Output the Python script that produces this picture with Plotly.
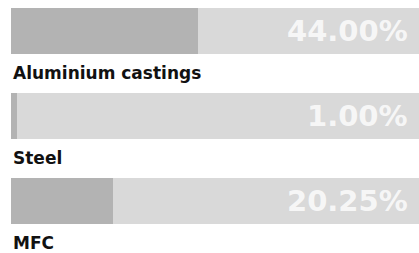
import plotly.graph_objects as go

categories = ["Aluminium castings", "Steel", "MFC"]
shares = [44.00, 1.00, 20.25]           # displayed percentages
fill_lengths = [45.8, 1.5, 25.0]        # filled part of each track (% of track)
track_max = 100

FILL = "#b3b3b3"
TRACK = "#d9d9d9"

# y axis maps 1:1 to page pixels
W, H = 419, 253
bar_h = 46
first_center = 31
step = 85
centers = [first_center + i * step for i in range(len(categories))]

fig = go.Figure()
# track: drawn past the axis end and clipped by the plot area so it reaches the right edge
fig.add_trace(go.Bar(
    y=centers, x=[track_max * 1.1] * len(categories), orientation="h",
    width=bar_h, marker=dict(color=TRACK, line=dict(width=0)),
    cliponaxis=True, hoverinfo="skip", showlegend=False))
fig.add_trace(go.Bar(
    y=centers, x=fill_lengths, orientation="h",
    width=bar_h, marker=dict(color=FILL, line=dict(width=0)),
    hoverinfo="skip", showlegend=False))

for c, cat, s in zip(centers, categories, shares):
    fig.add_annotation(x=1, y=c, xref="paper", yref="y",
                       text=f"{s:.2f}%", showarrow=False,
                       xanchor="right", yanchor="middle", xshift=-9,
                       font=dict(family="DejaVu Sans", size=29, color="rgba(255,255,255,0.8)", weight="bold"))
    fig.add_annotation(x=0, y=c + bar_h / 2 + 19, xref="paper", yref="y",
                       text=f"<b>{cat}</b>", showarrow=False,
                       xanchor="left", yanchor="middle",
                       font=dict(family="DejaVu Sans", size=17, color="#111111"))

axis_off = dict(showticklabels=False, showgrid=False, zeroline=False, showline=False,
                ticks="", fixedrange=True, autorange=False)
fig.update_layout(
    width=W, height=H, margin=dict(l=11, r=0, t=0, b=0, pad=0, autoexpand=False),
    paper_bgcolor="white", plot_bgcolor="white",
    barmode="overlay", bargap=0,
    xaxis=dict(range=[0, track_max], type="linear", **axis_off),
    yaxis=dict(range=[H, 0], type="linear", **axis_off),
)

fig.write_html("out.html", config={"displayModeBar": False},
               post_script="document.documentElement.style.overflow='hidden';document.body.style.margin='0';document.body.style.overflow='hidden';")
